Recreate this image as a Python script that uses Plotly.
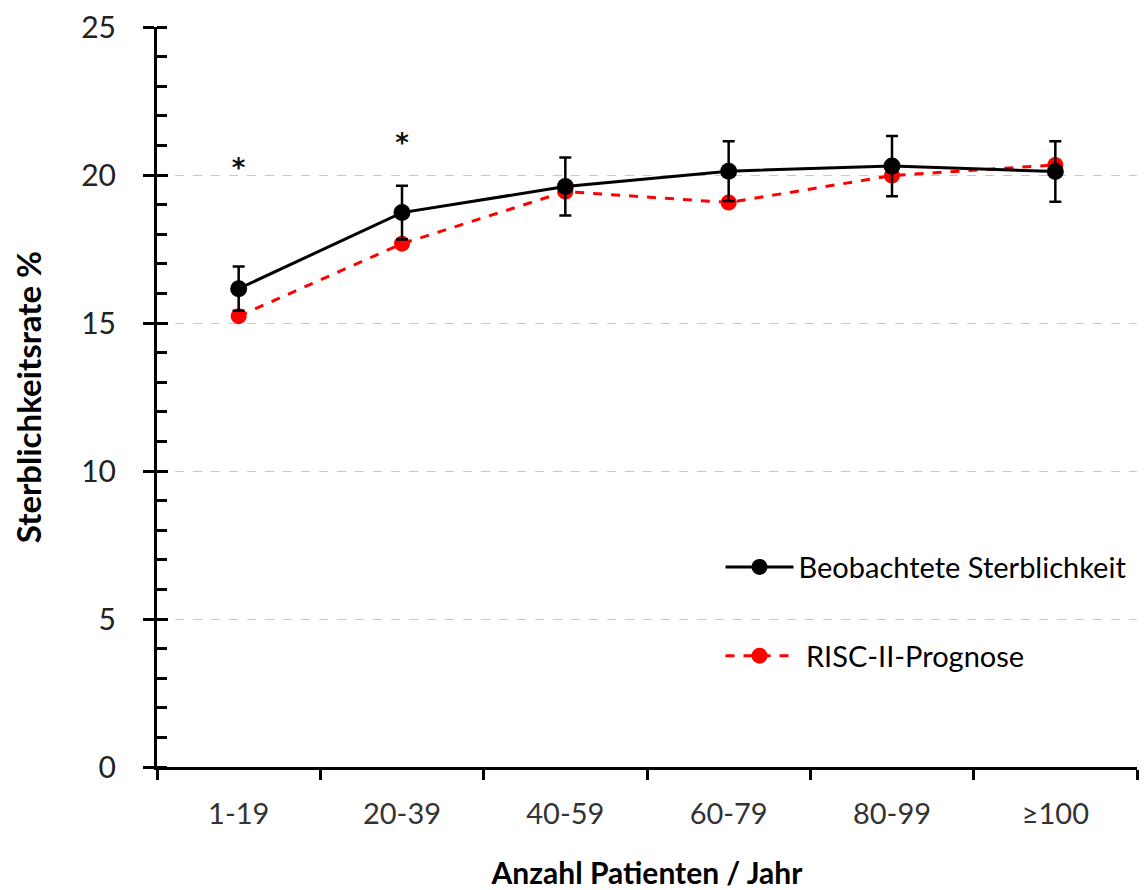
import plotly.graph_objects as go

categories = ["1-19", "20-39", "40-59", "60-79", "80-99", "≥100"]
observed = [16.16, 18.73, 19.61, 20.13, 20.3, 20.12]
observed_err = [0.75, 0.91, 0.98, 1.01, 1.02, 1.02]
risc = [15.23, 17.68, 19.44, 19.07, 19.98, 20.34]
star_cats = ["1-19", "20-39"]
star_y = [20.15, 21.0]
y_ticks = [0, 5, 10, 15, 20, 25]

FONT = "Lato"

fig = go.Figure()
fig.add_trace(go.Scatter(
    x=categories, y=risc, mode="lines+markers", name="\u00a0RISC-II-Prognose",
    line=dict(color="#ff0000", width=3, dash="dash"),
    marker=dict(color="#ff0000", size=16),
    legendgroup="b", legendrank=2,
))
fig.add_trace(go.Scatter(
    x=categories, y=observed, mode="lines+markers", name="Beobachtete Sterblichkeit",
    line=dict(color="black", width=3),
    marker=dict(color="black", size=17),
    error_y=dict(type="data", array=observed_err, color="black", thickness=2.5, width=6),
    legendgroup="a", legendrank=1,
))
fig.add_trace(go.Scatter(
    x=star_cats, y=star_y, mode="text", text=["<b>*</b>", "<b>*</b>"],
    textfont=dict(size=26, color="#111", family="DejaVu Sans"), showlegend=False,
    yaxis="y2", hoverinfo="skip",
))

fig.update_layout(
    width=1147, height=890,
    margin=dict(l=149, r=18, t=19, b=131, autoexpand=False),
    paper_bgcolor="white", plot_bgcolor="white",
    font=dict(family=FONT, color="black"),
    showlegend=True,
    legend=dict(x=0.575, y=0.21, xanchor="left", yanchor="middle",
                font=dict(size=29, family=FONT), tracegroupgap=48,
                itemwidth=68, bgcolor="rgba(0,0,0,0)"),
    xaxis=dict(
        type="category", range=[-0.5, 5.5], tickson="boundaries",
        ticks="outside", ticklen=10, tickwidth=2.5, tickcolor="black",
        showline=True, linecolor="black", linewidth=3,
        showgrid=False, zeroline=False, automargin=False,
        tickfont=dict(size=29, color="#333"), ticklabelstandoff=19,
        title=dict(text="<b>Anzahl Patienten / Jahr</b>", font=dict(size=30), standoff=35),
    ),
    yaxis=dict(
        range=[0, 25], tickvals=y_ticks, ticklabeloverflow="allow",
        ticks="outside", ticklen=11, tickwidth=2.5, tickcolor="black",
        minor=dict(dtick=1, ticks="inside", ticklen=10, tickwidth=2.5, tickcolor="black", showgrid=False),
        showline=True, linecolor="black", linewidth=3,
        showgrid=True, gridcolor="#c8c8c8", griddash="dash", gridwidth=1,
        zeroline=False, automargin=False,
        tickfont=dict(size=30, color="#222"), ticklabelstandoff=21,
        title=dict(text="<b>Sterblichkeitsrate %</b>", font=dict(size=33), standoff=38),
    ),
    yaxis2=dict(
        range=[0, 25], overlaying="y", side="left", tickvals=y_ticks,
        ticks="inside", ticklen=11, tickwidth=2.5, tickcolor="black",
        showticklabels=False, showgrid=False, showline=False, zeroline=False,
    ),
)

fig.write_html("out.html")
